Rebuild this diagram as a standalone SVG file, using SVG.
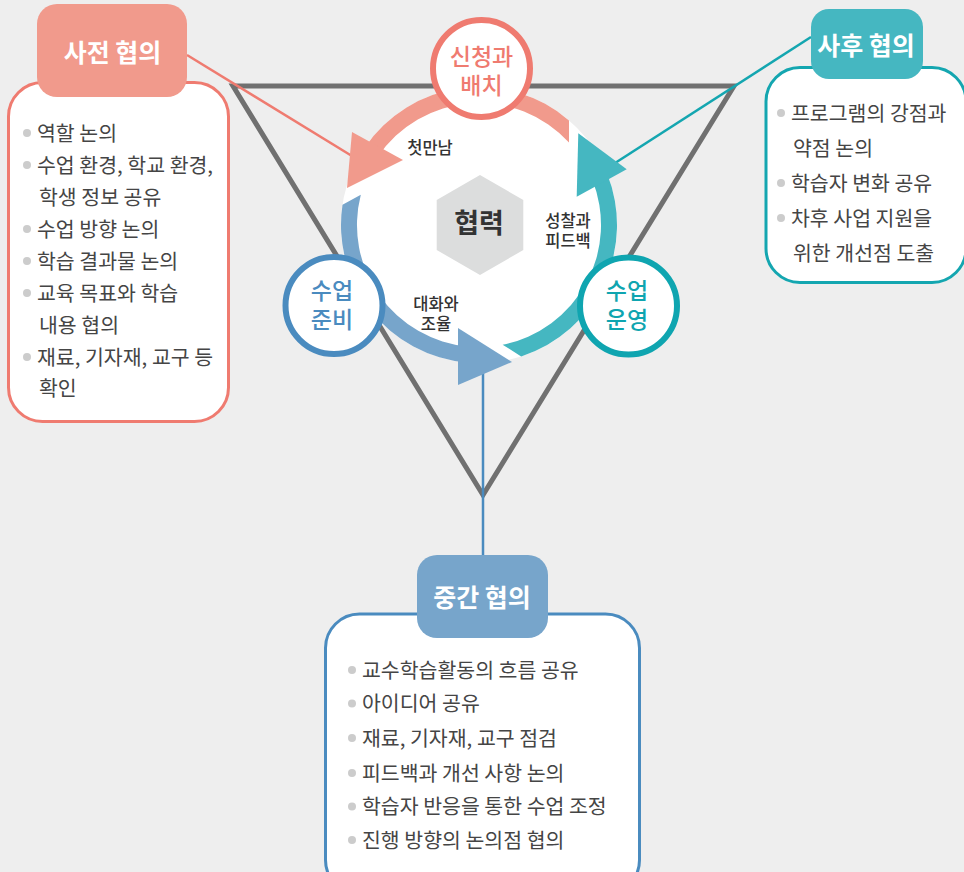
<svg xmlns="http://www.w3.org/2000/svg" width="964" height="872" viewBox="0 0 964 872">
<style>
.t{font-family:"Noto Sans CJK KR","Noto Sans",sans-serif;}
.body{font-size:20.5px;fill:#454545;}
.hd{font-size:25px;font-weight:700;fill:#fff;text-anchor:middle;}
.lbl{font-size:16.5px;font-weight:500;fill:#333;text-anchor:middle;}
.nd{font-size:23px;font-weight:500;text-anchor:middle;}
.bul{fill:#cccccc;}
</style>
<rect width="964" height="872" fill="#eeeeee"/>
<g id="connectors">
<polygon points="233,86 734,86 483,495" fill="none" stroke="#707070" stroke-width="5" stroke-linejoin="miter"/>
<line x1="187" y1="55" x2="365" y2="164" stroke="#ef7b70" stroke-width="2.5"/>
<line x1="811" y1="37" x2="612" y2="165" stroke="#14a6b0" stroke-width="2.5"/>
<line x1="483" y1="365" x2="483" y2="556" stroke="#4a8bbf" stroke-width="2.5"/>
</g>
<g id="cycle">
<circle cx="479" cy="225" r="138" fill="#ffffff"/>
<path d="M569,120.4 A138,138 0 0 0 364.6,147.83 L377.86,156.78 A122,122 0 0 1 569,142.6 Z" fill="#f19a8c"/>
<polygon points="352,132 403,160 347,188" fill="#f19a8c"/>
<path d="M521.2,356.4 A138,138 0 0 0 606.95,173.3 L592.12,179.3 A122,122 0 0 1 502.6,344.7 Z" fill="#45b7c1"/>
<polygon points="578.3,133.3 626.7,169.3 576.7,196.7" fill="#45b7c1"/>
<path d="M342.5,204.7 A138,138 0 0 0 466.97,362.47 L468.37,346.54 A122,122 0 0 1 360.8,194.7 Z" fill="#77a5cb"/>
<polygon points="458,328 512,362 458,385" fill="#77a5cb"/>
<text class="t lbl" x="430" y="154">첫만남</text>
<text class="t lbl" x="568" y="226.5">성찰과</text>
<text class="t lbl" x="568" y="247">피드백</text>
<text class="t lbl" x="436" y="309.5">대화와</text>
<text class="t lbl" x="436" y="330">조율</text>
</g>
<g id="center">
<polygon points="480,175 523.3,200 523.3,250 480,275 436.7,250 436.7,200" fill="#dcdddd"/>
<text class="t" x="479" y="233" font-size="27" font-weight="700" fill="#333" text-anchor="middle">협력</text>
</g>
<g id="node-apply">
<circle cx="481.5" cy="68.5" r="48.5" fill="#fff" stroke="#ef7b70" stroke-width="6"/>
<text class="t nd" x="481.5" y="65" fill="#ef7b70">신청과</text>
<text class="t nd" x="481.5" y="94" fill="#ef7b70">배치</text>
</g>
<g id="node-prep">
<circle cx="334" cy="305.5" r="48.5" fill="#fff" stroke="#4a8bbf" stroke-width="6"/>
<text class="t nd" x="332" y="299" fill="#4a8bbf">수업</text>
<text class="t nd" x="332" y="328" fill="#4a8bbf">준비</text>
</g>
<g id="node-run">
<circle cx="628.5" cy="306" r="48.5" fill="#fff" stroke="#0fa5b0" stroke-width="6"/>
<text class="t nd" x="627" y="299" fill="#0fa5b0">수업</text>
<text class="t nd" x="627" y="328" fill="#0fa5b0">운영</text>
</g>
<g id="pre-consult">
<rect x="8.5" y="82.5" width="220" height="339" rx="34" fill="#fff" stroke="#ef7b70" stroke-width="3"/>
<rect x="37" y="4" width="150" height="93" rx="20" fill="#f19a8c"/>
<text class="t hd" x="112.5" y="61.5">사전 협의</text>
<g class="t body">
<circle class="bul" cx="27" cy="133" r="4"/><text x="37" y="140.5">역할 논의</text>
<circle class="bul" cx="27" cy="165" r="4"/><text x="37" y="172.5">수업 환경, 학교 환경,</text>
<text x="39" y="204.5">학생 정보 공유</text>
<circle class="bul" cx="27" cy="229" r="4"/><text x="37" y="236.5">수업 방향 논의</text>
<circle class="bul" cx="27" cy="261" r="4"/><text x="37" y="268.5">학습 결과물 논의</text>
<circle class="bul" cx="27" cy="293" r="4"/><text x="37" y="300.5">교육 목표와 학습</text>
<text x="39" y="332.5">내용 협의</text>
<circle class="bul" cx="27" cy="357" r="4"/><text x="37" y="364.5">재료, 기자재, 교구 등</text>
<text x="39" y="395.5">확인</text>
</g>
</g>
<g id="post-consult">
<rect x="766" y="67.5" width="200" height="215" rx="34" fill="#fff" stroke="#14a6b0" stroke-width="3"/>
<rect x="811" y="9" width="112" height="70" rx="18" fill="#45b7c1"/>
<text class="t hd" x="866" y="55">사후 협의</text>
<g class="t body">
<circle class="bul" cx="781" cy="113" r="4"/><text x="791" y="120.5">프로그램의 강점과</text>
<text x="793" y="155.5">약점 논의</text>
<circle class="bul" cx="781" cy="183" r="4"/><text x="791" y="190.5">학습자 변화 공유</text>
<circle class="bul" cx="781" cy="218" r="4"/><text x="791" y="225.5">차후 사업 지원을</text>
<text x="793" y="260.5">위한 개선점 도출</text>
</g>
</g>
<g id="mid-consult">
<rect x="325.5" y="614" width="314" height="280" rx="34" fill="#fff" stroke="#4a8bbf" stroke-width="3"/>
<rect x="417" y="555" width="131" height="83" rx="20" fill="#77a5cb"/>
<text class="t hd" x="482" y="606.5">중간 협의</text>
<g class="t body">
<circle class="bul" cx="352" cy="670" r="4"/><text x="362" y="677.5">교수학습활동의 흐름 공유</text>
<circle class="bul" cx="352" cy="703.5" r="4"/><text x="362" y="711">아이디어 공유</text>
<circle class="bul" cx="352" cy="738" r="4"/><text x="362" y="745.5">재료, 기자재, 교구 점검</text>
<circle class="bul" cx="352" cy="773" r="4"/><text x="362" y="780.5">피드백과 개선 사항 논의</text>
<circle class="bul" cx="352" cy="806.5" r="4"/><text x="362" y="814">학습자 반응을 통한 수업 조정</text>
<circle class="bul" cx="352" cy="840" r="4"/><text x="362" y="847.5">진행 방향의 논의점 협의</text>
</g>
</g>
</svg>
